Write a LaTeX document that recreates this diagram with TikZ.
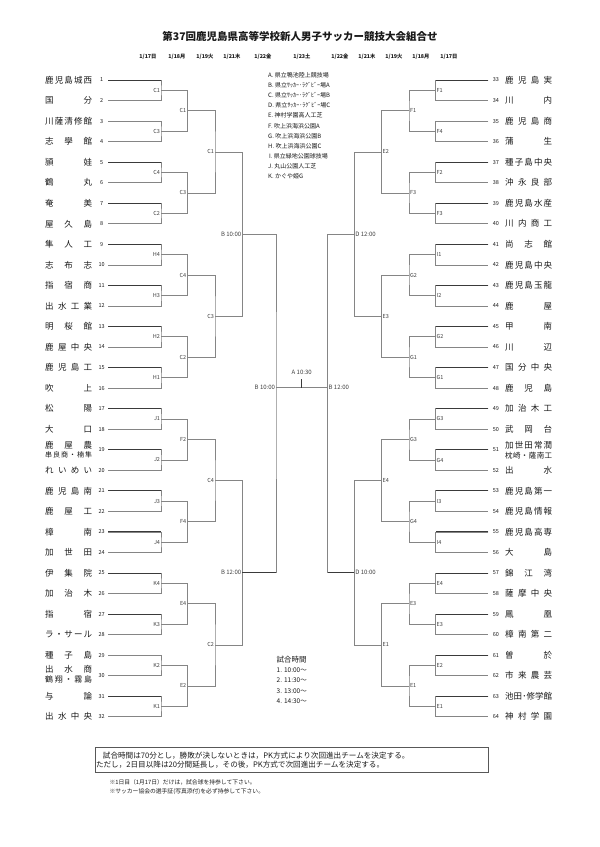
\documentclass[tikz,border=0pt]{standalone}
\usepackage{fontspec}
\setmainfont{Noto Sans CJK JP}
\usetikzlibrary{calc}
\definecolor{lineg}{HTML}{858585}
\definecolor{lined}{HTML}{3A3A3A}
\definecolor{txt}{HTML}{1A1A1A}
\definecolor{labc}{HTML}{404040}
\def\sprd#1{\sprdA#1\endsprd}
\def\sprdA#1#2\endsprd{#1\if\relax\detokenize{#2}\relax\else\hfill\sprdA#2\endsprd\fi}
\newcommand\tnB[1]{\makebox[47pt][s]{\sprd{#1}}}
\newcommand\tnx[1]{\expandafter\tnB\expandafter{#1}}
\begin{document}
\begin{tikzpicture}[x=1pt,y=-1pt,
 br/.style={draw=lineg,line width=0.7pt},
 dk/.style={draw=lined,line width=0.9pt},
 nm/.style={inner sep=0pt,anchor=west,text=txt,font=\fontsize{8.5}{9}\selectfont},
 nmsub/.style={inner sep=0pt,anchor=west,text=txt,font=\fontsize{7}{7.5}\selectfont},
 num/.style={inner sep=0pt,text=txt,font=\fontsize{5.5}{6}\selectfont},
 lbl/.style={inner sep=0pt,text=labc,font=\fontsize{5.5}{6}\selectfont},
 tlbl/.style={inner sep=0pt,text=labc,font=\fontsize{6}{6.5}\selectfont},
 leg/.style={inner sep=0pt,anchor=west,text=txt,font=\fontsize{6}{7}\selectfont},
 dt/.style={inner sep=0pt,text=txt,font=\bfseries\fontsize{5.3}{6}\selectfont},
 note/.style={inner sep=0pt,anchor=west,text=txt,font=\fontsize{7.6}{8}\selectfont},
]
\useasboundingbox[fill=white] (0,0) rectangle (600,847);

% title
\node[inner sep=0pt,text=txt,font=\bfseries\fontsize{10.5}{12}\selectfont] (title) at (300,37) {第37回鹿児島県高等学校新人男子サッカー競技大会組合せ};

% dates
\node[dt] (d1) at (148,57) {1/17日};
\node[dt] (d2) at (177,57) {1/18月};
\node[dt] (d3) at (205,57) {1/19火};
\node[dt] (d4) at (232,57) {1/21木};
\node[dt] (d5) at (263,57) {1/22金};
\node[dt] (d6) at (302,57) {1/23土};
\node[dt] (d7) at (340,57) {1/22金};
\node[dt] (d8) at (367,57) {1/21木};
\node[dt] (d9) at (394,57) {1/19火};
\node[dt] (d10) at (421,57) {1/18月};
\node[dt] (d11) at (449,57) {1/17日};

% legend
\node[leg] (lgA) at (268,75) {A.\ 県立鴨池陸上競技場};
\node[leg] (lgB) at (268,85.2) {B.\ 県立ｻｯｶｰ･ﾗｸﾞﾋﾞｰ場A};
\node[leg] (lgC) at (268,95.4) {C.\ 県立ｻｯｶｰ･ﾗｸﾞﾋﾞｰ場B};
\node[leg] (lgD) at (268,105.5) {D.\ 県立ｻｯｶｰ･ﾗｸﾞﾋﾞｰ場C};
\node[leg] (lgE) at (268,115.7) {E.\ 神村学園高人工芝};
\node[leg] (lgF) at (268,125.9) {F.\ 吹上浜海浜公園A};
\node[leg] (lgG) at (268,136) {G.\ 吹上浜海浜公園B};
\node[leg] (lgH) at (268,146.2) {H.\ 吹上浜海浜公園C};
\node[leg] (lgI) at (269,156.4) {I.\ 県立緑地公園球技場};
\node[leg] (lgJ) at (268,166.5) {J.\ 丸山公園人工芝};
\node[leg] (lgK) at (268,176.7) {K.\ かぐや姫G};

% ---------- coordinates ----------
\foreach \i in {1,...,32}{
  \pgfmathsetmacro\yy{80+(\i-1)*20.54}
  \coordinate (tl\i) at (108,\yy);
  \coordinate (tr\i) at (488.3,\yy);
}
\foreach \k in {1,...,16}{
  \pgfmathsetmacro\yy{80+(2*\k-1.5)*20.54}
  \coordinate (la\k) at (161,\yy);
  \coordinate (ra\k) at (435.7,\yy);
}
\foreach \k in {1,...,8}{
  \pgfmathsetmacro\yy{80+(4*\k-2.5)*20.54}
  \coordinate (lb\k) at (187.3,\yy);
  \coordinate (rb\k) at (409,\yy);
}
\foreach \k in {1,...,4}{
  \pgfmathsetmacro\yy{80+(8*\k-4.5)*20.54}
  \coordinate (lc\k) at (215,\yy);
  \coordinate (rc\k) at (381.7,\yy);
}
\coordinate (ld1) at (242.3,234.05);
\coordinate (ld2) at (242.3,572.3);
\coordinate (rd1) at (354.3,234.05);
\coordinate (rd2) at (354.3,572.3);
\coordinate (le) at (276,387.7);
\coordinate (re) at (327.7,387.7);
\coordinate (fin) at (301.7,387.7);
\coordinate (tick) at (301.7,379);

% ---------- bracket lines ----------
\foreach \k in {1,...,16}{
  \pgfmathtruncatemacro\a{2*\k-1}
  \pgfmathtruncatemacro\b{2*\k}
  \draw[br] (tl\a) -| (la\k) |- (tl\b);
  \draw[br] (tr\a) -| (ra\k) |- (tr\b);
  \ifnum\a=3\relax\else\ifnum\a=29\relax\else
    \draw[dk] (tl\a) -- (tl\a -| la\k);
  \fi\fi
  \ifnum\a=3\relax\else
    \draw[dk] (tr\a) -- (tr\a -| ra\k);
  \fi
}
\foreach \k in {1,...,8}{
  \pgfmathtruncatemacro\a{2*\k-1}
  \pgfmathtruncatemacro\b{2*\k}
  \draw[br] (la\a) -| (lb\k) |- (la\b);
  \draw[br] (ra\a) -| (rb\k) |- (ra\b);
}
\foreach \k in {1,...,4}{
  \pgfmathtruncatemacro\a{2*\k-1}
  \pgfmathtruncatemacro\b{2*\k}
  \draw[br] (lb\a) -| (lc\k) |- (lb\b);
  \draw[br] (rb\a) -| (rc\k) |- (rb\b);
}
\draw[br] (lc1) -| (ld1) |- (lc2);
\draw[br] (lc3) -| (ld2) |- (lc4);
\draw[br] (rc1) -| (rd1) |- (rc2);
\draw[br] (rc3) -| (rd2) |- (rc4);
\draw[br] (ld1) -| (le) |- (ld2);
\draw[br] (rd1) -| (re) |- (rd2);
\draw[dk] (ld2) -- (ld2 -| le);
\draw[dk] (rd2) -- (rd2 -| re);
\draw[br] (le) -- (re);
\draw[dk] (fin) -- (tick);

% ---------- labels ----------
\foreach \t [count=\k] in {C1,C3,C4,C2,H4,H3,H2,H1,J1,J2,J3,J4,K4,K3,K2,K1}
  \node[lbl,anchor=east,xshift=-0.8pt] (lla\k) at (la\k) {\t};
\foreach \t [count=\k] in {C1,C3,C4,C2,F2,F4,E4,E2}
  \node[lbl,anchor=east,xshift=-0.8pt] (llb\k) at (lb\k) {\t};
\foreach \t [count=\k] in {C1,C3,C4,C2}
  \node[lbl,anchor=east,xshift=-0.8pt] (llc\k) at (lc\k) {\t};
\foreach \t [count=\k] in {F1,F4,F2,F3,I1,I2,G2,G1,G3,G4,I3,I4,E4,E3,E2,E1}
  \node[lbl,anchor=west,xshift=0.8pt] (rla\k) at (ra\k) {\t};
\foreach \t [count=\k] in {F1,F3,G2,G1,G3,G4,E3,E1}
  \node[lbl,anchor=west,xshift=0.8pt] (rlb\k) at (rb\k) {\t};
\foreach \t [count=\k] in {E2,E3,E4,E1}
  \node[lbl,anchor=west,xshift=0.8pt] (rlc\k) at (rc\k) {\t};
\node[tlbl,anchor=east,xshift=-0.8pt] (lld1) at (ld1) {B 10:00};
\node[tlbl,anchor=east,xshift=-0.8pt] (lld2) at (ld2) {B 12:00};
\node[tlbl,anchor=east,xshift=-0.8pt] (lle) at (le) {B 10:00};
\node[tlbl,anchor=west,xshift=0.8pt] (rld1) at (rd1) {D 12:00};
\node[tlbl,anchor=west,xshift=0.8pt] (rld2) at (rd2) {D 10:00};
\node[tlbl,anchor=west,xshift=0.8pt] (rle) at (re) {B 12:00};
\node[tlbl] (lfin) at (301.7,372) {A 10:30};

% ---------- team names ----------
\foreach \t [count=\i] in {鹿児島城西,国分,川薩清修館,志學館,頴娃,鶴丸,奄美,屋久島,隼人工,志布志,指宿商,出水工業,明桜館,鹿屋中央,鹿児島工,吹上,松陽,大口,x,れいめい,鹿児島南,鹿屋工,樟南,加世田,伊集院,加治木,指宿,ラ・サール,種子島,x,与論,出水中央}{
  \pgfmathsetmacro\yy{80+(\i-1)*20.54}
  \node[num] (nl\i) at (101.7,\yy) {\i};
  \ifnum\i=19\relax\else\ifnum\i=30\relax\else
    \node[nm] (ln\i) at (45,\yy) {\tnx{\t}};
  \fi\fi
}
\node[nm] (ln19) at (45,445.5) {\tnB{鹿屋農}};
\node[nmsub] (ln19b) at (45,455.3) {\tnB{串良商・楠隼}};
\node[nm] (ln30) at (45,669.2) {\tnB{出水商}};
\node[nmsub,font=\fontsize{8}{8.5}\selectfont] (ln30b) at (45,679.5) {\tnB{鶴翔・霧島}};

\foreach \t [count=\i] in {鹿児島実,川内,鹿児島商,蒲生,種子島中央,沖永良部,鹿児島水産,川内商工,尚志館,鹿児島中央,鹿児島玉龍,鹿屋,甲南,川辺,国分中央,鹿児島,加治木工,武岡台,x,出水,鹿児島第一,鹿児島情報,鹿児島高専,大島,錦江湾,薩摩中央,鳳凰,樟南第二,曽於,市来農芸,池田･修学館,神村学園}{
  \pgfmathsetmacro\yy{80+(\i-1)*20.54}
  \pgfmathtruncatemacro\nn{\i+32}
  \node[num] (nr\i) at (495.8,\yy) {\nn};
  \ifnum\i=19\relax\else
    \node[nm] (rn\i) at (505,\yy) {\tnx{\t}};
  \fi
}
\node[nm] (rn19) at (505,445.5) {\tnB{加世田常潤}};
\node[nmsub,font=\fontsize{7.5}{8}\selectfont] (rn19b) at (505,455.3) {\tnB{枕崎・薩南工}};

% ---------- match times ----------
\node[inner sep=0pt,anchor=west,text=txt,font=\fontsize{7.5}{8}\selectfont] (tjt) at (276.5,660) {試合時間};
\node[leg,font=\fontsize{6.5}{7}\selectfont] (tj1) at (276.5,670.3) {1. 10:00～};
\node[leg,font=\fontsize{6.5}{7}\selectfont] (tj2) at (276.5,680.5) {2. 11:30～};
\node[leg,font=\fontsize{6.5}{7}\selectfont] (tj3) at (276.5,690.7) {3. 13:00～};
\node[leg,font=\fontsize{6.5}{7}\selectfont] (tj4) at (276.5,700.8) {4. 14:30～};

% ---------- rules box ----------
\draw[draw=lined!85,line width=0.6pt] (95,747.3) rectangle (488.3,772.3);
\node[note] (r1) at (102.7,755.7) {試合時間は70分とし，勝敗が決しないときは，PK方式により次回進出チームを決定する。};
\node[note] (r2) at (95.8,765) {ただし，2日目以降は20分間延長し，その後，PK方式で次回進出チームを決定する。};
\node[leg,font=\fontsize{5.8}{6.5}\selectfont] (n1) at (109.3,782) {※1日目（1月17日）だけは，試合球を持参して下さい。};
\node[leg,font=\fontsize{5.8}{6.5}\selectfont] (n2) at (109.3,791.7) {※サッカー協会の選手証(写真添付)を必ず持参して下さい。};
\end{tikzpicture}
\end{document}
